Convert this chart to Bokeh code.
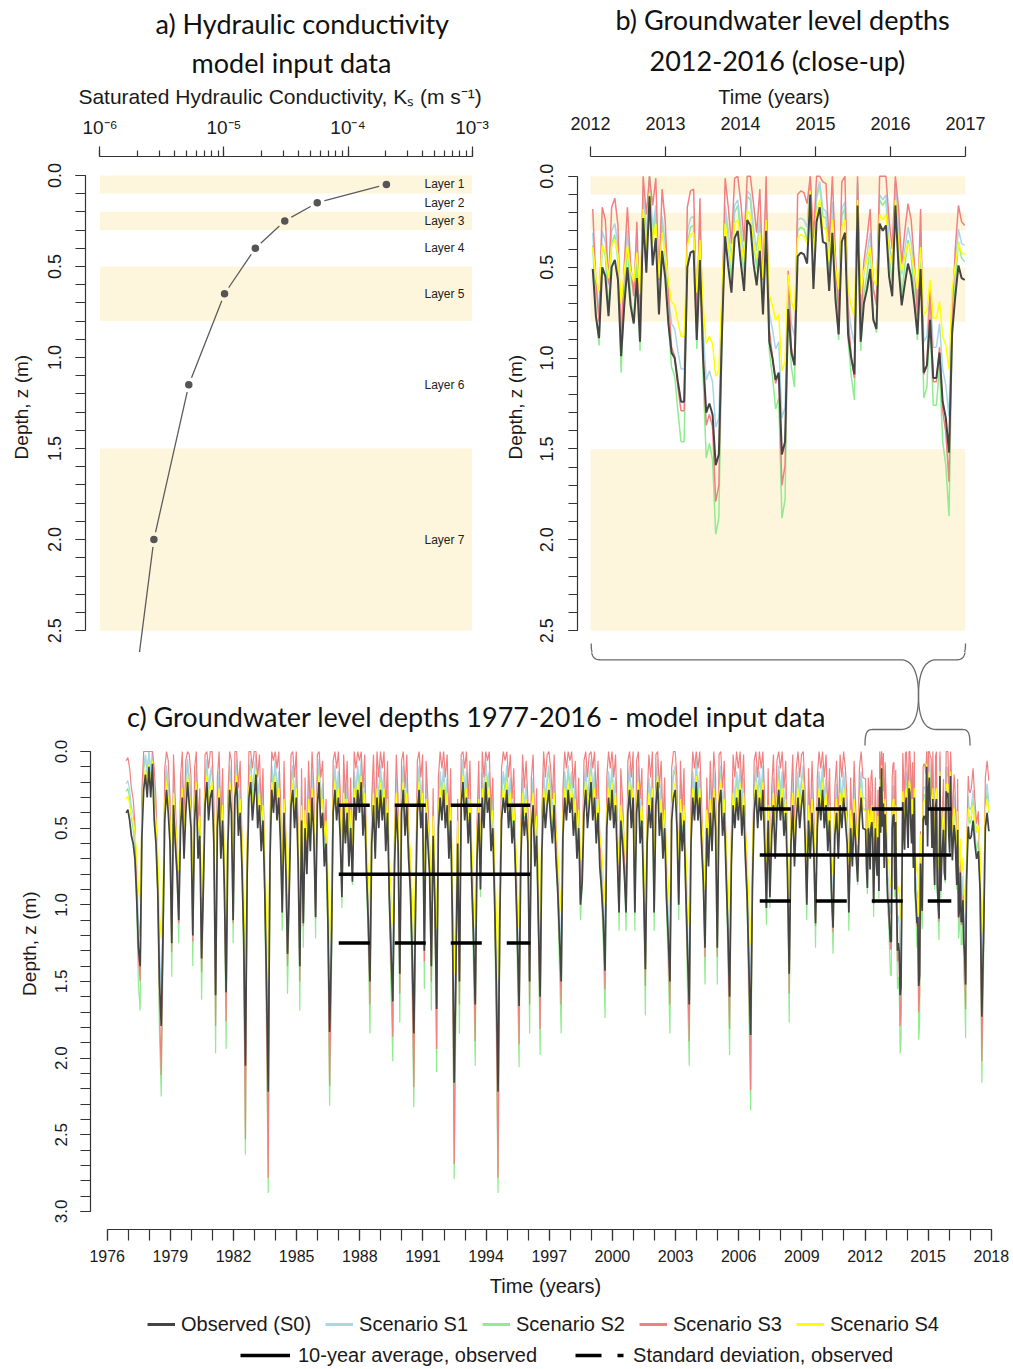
import numpy as np
from bokeh.plotting import figure
from bokeh.layouts import column, row
from bokeh.models import (Range1d, SingleIntervalTicker, FixedTicker, LogTicker, Title,
                          PrintfTickFormatter, CustomJSTickFormatter, Label, Legend, LegendItem)
from bokeh.core.properties import value
from bokeh.embed import file_html
from bokeh.resources import INLINE

# ---------------------------------------------------------------- data
layer_names = ["Layer 1", "Layer 2", "Layer 3", "Layer 4", "Layer 5", "Layer 6", "Layer 7"]
layer_top = [0.0, 0.1, 0.2, 0.3, 0.5, 0.8, 1.5]
layer_bottom = [0.1, 0.2, 0.3, 0.5, 0.8, 1.5, 2.5]
layer_shaded = [True, False, True, False, True, False, True]
ks_depth = [0.05, 0.15, 0.25, 0.40, 0.65, 1.15, 2.00]
ks_value = [2.04e-4, 5.65e-5, 3.09e-5, 1.79e-5, 1.01e-5, 5.2e-6, 2.72e-6]
ks_tail_depth = 2.62
ks_tail_value = 2.08e-6

# panel b (2012-2016), depths in cm
b_s0 = [51,77,89,50,55,77,50,46,57,99, 71,50,71,81,56,91,23,53,11,49, 34,76,41,56,81,97,100,113,124,124,
        50,42,41,90,46,100,130,125,131,159, 153,86,33,50,64,34,30,48,63,24, 27,48,60,41,76,30,
        91,100,112,108,153,146,73,97,104,44, 42,43,48,10,62,25,17,36,37,63, 31,68,87,36,31,87,100,109,16,91,
        70,62,51,79,84,26,30,27,55,66, 16,50,71,59,48,55,70,87,51,108, 104,79,111,111,97,124,133,152,86,66,
        49,56,57]
b_s1 = [31,60,73,30,36,60,30,26,38,83, 54,30,54,65,37,75,7,34,0,29, 16,59,22,37,65,81,84,96,106,106,
        30,23,22,74,26,84,112,107,113,138, 133,70,16,30,45,16,13,28,44,8, 10,28,41,22,59,13,
        75,84,95,91,133,127,56,81,88,24, 23,24,28,0,43,9,3,18,19,44, 14,50,71,18,14,71,84,92,3,75,
        53,43,31,63,68,10,13,10,36,48, 3,30,54,40,28,36,53,71,31,91, 88,63,94,94,81,106,115,132,70,48,
        29,37,38]
b_s2 = [38,75,93,37,44,75,37,32,47,108, 66,37,66,81,45,96,10,41,0,36, 20,74,27,45,81,105,110,129,146,146,
        37,28,27,95,32,110,155,147,156,197, 188,89,19,37,57,20,16,35,55,11, 13,35,51,27,74,16,
        96,110,128,122,188,178,69,105,116,30, 28,29,35,0,54,12,5,22,23,55, 17,62,90,22,17,90,110,123,4,96,
        65,54,38,78,86,13,16,13,44,59, 4,37,66,49,35,44,65,90,38,122, 116,78,126,126,105,146,159,187,89,59,
        36,45,47]
b_s3 = [18,59,80,17,24,59,17,12,27,97, 48,17,48,66,25,84,0,21,0,16, 1,57,7,25,66,94,99,116,129,129,
        17,8,7,82,12,99,137,131,138,179, 170,75,1,17,37,1,0,15,36,0, 0,15,31,7,57,0,
        84,99,114,109,170,159,52,94,104,10, 8,9,15,0,34,0,0,3,4,36, 0,44,77,3,0,77,99,111,0,84,
        47,34,18,62,71,0,0,0,24,40, 0,17,48,30,15,24,47,77,18,109, 104,62,113,113,94,129,141,168,75,40,
        16,25,27]
b_s4 = [39,56,63,38,42,56,38,35,43,70, 52,38,52,58,42,65,18,40,9,37, 26,56,31,42,58,69,71,80,88,88,
        38,32,31,64,35,71,92,88,92,110, 107,62,26,38,47,26,24,37,47,19, 21,37,45,31,56,24,
        65,71,79,76,107,102,54,69,74,34, 32,33,37,8,46,20,13,28,29,47, 24,50,62,28,24,62,71,77,13,65,
        52,46,39,57,60,21,24,21,42,49, 13,38,52,44,37,42,52,62,39,76, 74,57,78,78,69,88,93,106,62,49,
        37,42,43]

# panel c, monthly Dec-1976 .. Dec-2011 (cm)
c_s0_early = [40,
    38,45,55,60,70,95,128,140,55,25,15,30,
    10,30,8,45,60,90,150,179,120,45,25,40,
    60,125,35,60,80,110,50,30,70,40,20,35,
    50,120,45,25,70,55,135,90,35,20,45,30,
    25,60,159,50,30,70,45,90,157,60,25,40,
    110,30,20,55,40,75,120,205,80,30,20,45,
    30,15,50,35,65,45,90,150,222,70,25,40,
    20,45,30,60,105,40,75,132,90,35,25,50,
    30,70,140,45,112,50,80,40,65,30,55,108,
    35,20,50,40,75,60,110,183,130,40,25,45,
    30,55,95,35,60,40,75,50,85,30,45,25,
    40,20,55,35,80,110,150,60,35,70,30,50,
    25,45,30,65,40,95,130,163,75,35,60,145,
    40,25,55,35,70,90,130,184,100,40,25,50,
    35,130,40,60,80,140,55,100,168,50,30,45,
    25,50,35,70,45,110,216,140,60,150,35,20,
    45,30,60,40,85,120,165,70,40,90,30,50,
    20,40,30,65,50,95,150,222,110,45,30,40,
    25,50,35,60,45,80,120,166,70,35,55,40,
    60,150,50,35,75,55,110,160,65,30,50,35,
    25,45,60,35,70,90,120,150,55,30,45,25,
    40,30,55,40,70,50,100,85,40,25,50,35,
    20,45,30,60,40,75,90,110,143,50,30,45,
    25,50,35,70,105,45,60,80,105,40,25,50,
    30,105,40,25,60,45,90,142,60,35,50,30,
    105,35,20,55,40,70,50,95,120,150,45,30,
    25,50,100,40,65,45,90,130,165,60,30,45,
    20,45,30,60,85,128,50,75,40,65,30,50,
    128,35,25,55,40,80,115,160,75,35,50,30,
    45,25,55,35,70,95,140,185,90,40,25,50,
    30,45,25,60,102,45,95,55,35,70,40,25,
    45,30,55,40,80,145,60,35,75,45,30,50,
    35,25,55,100,45,70,40,65,112,50,30,45,
    25,50,35,65,45,90,115,55,40,70,35,50,
    30,45,60,105,50,75,40,65,85,45,30,50]
c_s1_early = [21,
    19,25,36,41,53,79,110,121,36,9,2,13,
    0,13,0,25,41,74,130,156,103,25,9,21,
    41,107,17,41,64,93,30,13,53,21,5,17,
    30,103,25,9,53,36,117,74,17,5,25,13,
    9,41,138,30,13,53,25,74,136,41,9,21,
    93,13,5,36,21,58,103,180,64,13,5,25,
    13,2,30,17,47,25,74,130,195,53,9,21,
    5,25,13,41,88,21,58,114,74,17,9,30,
    13,53,121,25,95,30,64,21,47,13,36,91,
    17,5,30,21,58,41,93,160,112,21,9,25,
    13,36,79,17,41,21,58,30,69,13,25,9,
    21,5,36,17,64,93,130,41,17,53,13,30,
    9,25,13,47,21,79,112,142,58,17,41,126,
    21,9,36,17,53,74,112,161,84,21,9,30,
    17,112,21,41,64,121,36,84,146,30,13,25,
    9,30,17,53,25,93,189,121,41,130,17,5,
    25,13,41,21,69,103,144,53,21,74,13,30,
    5,21,13,47,30,79,130,195,93,25,13,21,
    9,30,17,41,25,64,103,145,53,17,36,21,
    41,130,30,17,58,36,93,139,47,13,30,17,
    9,25,41,17,53,74,103,130,36,13,25,9,
    21,13,36,21,53,30,84,69,21,9,30,17,
    5,25,13,41,21,58,74,93,124,30,13,25,
    9,30,17,53,88,25,41,64,88,21,9,30,
    13,88,21,9,41,25,74,123,41,17,30,13,
    88,17,5,36,21,53,30,79,103,130,25,13,
    9,30,84,21,47,25,74,112,144,41,13,25,
    5,25,13,41,69,110,30,58,21,47,13,30,
    110,17,9,36,21,64,98,139,58,17,30,13,
    25,9,36,17,53,79,121,162,74,21,9,30,
    13,25,9,41,86,25,79,36,17,53,21,9,
    25,13,36,21,64,126,41,17,58,25,13,30,
    17,9,36,84,25,53,21,47,95,30,13,25,
    9,30,17,47,25,74,98,36,21,53,17,30,
    13,25,41,88,30,58,21,47,69,25,13,30]
c_s2_early = [26,
    24,31,44,51,65,102,152,169,44,12,3,16,
    0,16,0,31,51,95,184,225,140,31,12,26,
    51,147,21,51,80,125,37,16,65,26,8,21,
    37,140,31,12,65,44,162,95,21,8,31,16,
    12,51,197,37,16,65,31,95,194,51,12,26,
    125,16,8,44,26,72,140,263,80,16,8,31,
    16,3,37,21,58,31,95,184,288,65,12,26,
    8,31,16,51,117,26,72,158,95,21,12,37,
    16,65,169,31,128,37,80,26,58,16,44,122,
    21,8,37,26,72,51,125,231,155,26,12,31,
    16,44,102,21,51,26,72,37,87,16,31,12,
    26,8,44,21,80,125,184,51,21,65,16,37,
    12,31,16,58,26,102,155,202,72,21,51,177,
    26,12,44,21,65,95,155,232,110,26,12,37,
    21,155,26,51,80,169,44,110,209,37,16,31,
    12,37,21,65,31,125,279,169,51,184,21,8,
    31,16,51,26,87,140,205,65,26,95,16,37,
    8,26,16,58,37,102,184,288,125,31,16,26,
    12,37,21,51,31,80,140,206,65,21,44,26,
    51,184,37,21,72,44,125,198,58,16,37,21,
    12,31,51,21,65,95,140,184,44,16,31,12,
    26,16,44,26,65,37,110,87,26,12,37,21,
    8,31,16,51,26,72,95,125,174,37,16,31,
    12,37,21,65,117,31,51,80,117,26,12,37,
    16,117,26,12,51,31,95,172,51,21,37,16,
    117,21,8,44,26,65,37,102,140,184,31,16,
    12,37,110,26,58,31,95,155,205,51,16,31,
    8,31,16,51,87,152,37,72,26,58,16,37,
    152,21,12,44,26,80,132,198,72,21,37,16,
    31,12,44,21,65,102,169,234,95,26,12,37,
    16,31,12,51,113,31,102,44,21,65,26,12,
    31,16,44,26,80,177,51,21,72,31,16,37,
    21,12,44,110,31,65,26,58,128,37,16,31,
    12,37,21,58,31,95,132,44,26,65,21,37,
    16,31,51,117,37,72,26,58,87,31,16,37]
c_s3_early = [6,
    4,11,24,31,47,90,134,150,24,0,0,0,
    0,0,0,11,31,82,165,211,124,11,0,6,
    31,131,2,31,64,112,17,0,47,6,0,2,
    17,124,11,0,47,24,144,82,2,0,11,0,
    0,31,179,17,0,47,11,82,176,31,0,6,
    112,0,0,24,6,55,124,253,64,0,0,11,
    0,0,17,2,39,11,82,165,278,47,0,6,
    0,11,0,31,105,6,55,140,82,2,0,17,
    0,47,150,11,114,17,64,6,39,0,24,109,
    2,0,17,6,55,31,112,218,137,6,0,11,
    0,24,90,2,31,6,55,17,73,0,11,0,
    6,0,24,2,64,112,165,31,2,47,0,17,
    0,11,0,39,6,90,137,186,55,2,31,158,
    6,0,24,2,47,82,137,219,99,6,0,17,
    2,137,6,31,64,150,24,99,194,17,0,11,
    0,17,2,47,11,112,269,150,31,165,2,0,
    11,0,31,6,73,124,189,47,6,82,0,17,
    0,6,0,39,17,90,165,278,112,11,0,6,
    0,17,2,31,11,64,124,191,47,2,24,6,
    31,165,17,2,55,24,112,181,39,0,17,2,
    0,11,31,2,47,82,124,165,24,0,11,0,
    6,0,24,6,47,17,99,73,6,0,17,2,
    0,11,0,31,6,55,82,112,155,17,0,11,
    0,17,2,47,105,11,31,64,105,6,0,17,
    0,105,6,0,31,11,82,153,31,2,17,0,
    105,2,0,24,6,47,17,90,124,165,11,0,
    0,17,99,6,39,11,82,137,189,31,0,11,
    0,11,0,31,73,134,17,55,6,39,0,17,
    134,2,0,24,6,64,118,181,55,2,17,0,
    11,0,24,2,47,90,150,221,82,6,0,17,
    0,11,0,31,102,11,90,24,2,47,6,0,
    11,0,24,6,64,158,31,2,55,11,0,17,
    2,0,24,99,11,47,6,39,114,17,0,11,
    0,17,2,39,11,82,118,24,6,47,2,17,
    0,11,31,105,17,55,6,39,73,11,0,17]
c_s4_early = [31,
    29,35,42,45,52,67,90,98,42,20,12,24,
    8,24,6,35,45,64,105,122,85,35,20,31,
    45,88,27,45,58,78,38,24,52,31,16,27,
    38,85,35,20,52,42,95,64,27,16,35,24,
    20,45,110,38,24,52,35,64,109,45,20,31,
    78,24,16,42,31,55,85,138,58,24,16,35,
    24,12,38,27,48,35,64,105,148,52,20,31,
    16,35,24,45,74,31,55,93,64,27,20,38,
    24,52,98,35,79,38,58,31,48,24,42,76,
    27,16,38,31,55,45,78,125,92,31,20,35,
    24,42,67,27,45,31,55,38,61,24,35,20,
    31,16,42,27,58,78,105,45,27,52,24,38,
    20,35,24,48,31,67,92,113,55,27,45,101,
    31,20,42,27,52,64,92,125,71,31,20,38,
    27,92,31,45,58,98,42,71,116,38,24,35,
    20,38,27,52,35,78,145,98,45,105,27,16,
    35,24,45,31,61,85,114,52,31,64,24,38,
    16,31,24,48,38,67,105,148,78,35,24,31,
    20,38,27,45,35,58,85,115,52,27,42,31,
    45,105,38,27,55,42,78,111,48,24,38,27,
    20,35,45,27,52,64,85,105,42,24,35,20,
    31,24,42,31,52,38,71,61,31,20,38,27,
    16,35,24,45,31,55,64,78,100,38,24,35,
    20,38,27,52,74,35,45,58,74,31,20,38,
    24,74,31,20,45,35,64,99,45,27,38,24,
    74,27,16,42,31,52,38,67,85,105,35,24,
    20,38,71,31,48,35,64,92,114,45,24,35,
    16,35,24,45,61,90,38,55,31,48,24,38,
    90,27,20,42,31,58,81,111,55,27,38,24,
    35,20,42,27,52,67,98,126,64,31,20,38,
    24,35,20,45,72,35,67,42,27,52,31,20,
    35,24,42,31,58,101,45,27,55,35,24,38,
    27,20,42,71,35,52,31,48,79,38,24,35,
    20,38,27,48,35,64,81,42,31,52,27,38,
    24,35,45,74,38,55,31,48,61,35,24,38]
# panel c, 2017 tail (cm)
c_s0_late = [55,45,60,70,65,90,173,120,50,40,52]
c_s1_late = [36,25,41,53,47,74,151,103,30,21,33]
c_s2_late = [44,31,51,65,58,95,216,140,37,26,40]
c_s3_late = [24,11,31,47,39,82,202,124,17,6,19]
c_s4_late = [42,35,45,52,48,64,119,85,38,31,39]

# 10-year statistics of observed series (m)
dec_start = [1987.0, 2007.0]
dec_end = [1996.1, 2016.1]
dec_mean = [0.80, 0.675]
dec_sd = [0.45, 0.30]

c_year_labels = list(range(1976, 2019, 3))
c_year_minor = list(range(1976, 2019))
b_year_ticks = [2012, 2013, 2014, 2015, 2016, 2017]

series_names = ["Observed (S0)", "Scenario S1", "Scenario S2", "Scenario S3", "Scenario S4"]
series_colors = ["#454545", "#a9d6e8", "#8fec8f", "#f28080", "#ffff00"]

# ---------------------------------------------------------------- helpers
FONT = "Liberation Sans"
TFONT = "Lato"
AX = "#333333"
BAND = "#fef6dc"


def style_axis(ax, size="18px"):
    ax.axis_line_color = AX
    ax.axis_line_width = 1.2
    ax.major_tick_line_color = AX
    ax.minor_tick_line_color = AX
    ax.major_tick_line_width = 1.2
    ax.minor_tick_line_width = 1.2
    ax.major_tick_in = 0
    ax.minor_tick_in = 0
    ax.major_label_text_font = FONT
    ax.major_label_text_font_size = size
    ax.major_label_text_color = "#1a1a1a"
    ax.axis_label_text_font = FONT
    ax.axis_label_text_font_size = "20px"
    ax.axis_label_text_font_style = "normal"
    ax.axis_label_text_color = "#1a1a1a"


def depth_axis(ax, top, tick_len, standoff, label_standoff):
    ax.ticker = SingleIntervalTicker(interval=0.5, num_minor_ticks=5)
    ax.bounds = (0, top)
    ax.formatter = PrintfTickFormatter(format="%.1f")
    ax.major_label_orientation = "vertical"
    ax.major_tick_out = tick_len
    ax.minor_tick_out = tick_len
    ax.major_label_standoff = standoff
    ax.axis_label = "Depth,  z (m)"
    ax.axis_label_text_font_size = "19px"
    ax.axis_label_standoff = label_standoff


def clean(p):
    p.grid.visible = False
    p.outline_line_color = None
    p.background_fill_color = "white"
    p.border_fill_color = "white"


def cubic(p0, p1, p2, p3, n=18):
    t = np.linspace(0, 1, n)[:, None]
    p0, p1, p2, p3 = map(np.array, (p0, p1, p2, p3))
    return ((1 - t) ** 3) * p0 + 3 * ((1 - t) ** 2) * t * p1 + 3 * (1 - t) * t ** 2 * p2 + t ** 3 * p3


def head(p, text, offset, standoff):
    p.add_layout(Title(text=text, align="left", offset=offset, standoff=standoff,
                       text_font=TFONT, text_font_size="27px", text_font_style="normal",
                       text_color="#111111"), "above")


def cm(a):
    return np.array(a, dtype=float) / 100.0


# ---------------------------------------------------------------- panel a
pa = figure(width=500, height=652, x_axis_type="log", x_axis_location="above",
            x_range=Range1d(10 ** -6.1169, 10 ** -2.9315), y_range=Range1d(2.6201, -0.1037),
            min_border_left=85, min_border_right=20, min_border_top=155, min_border_bottom=0,
            output_backend="svg", toolbar_location=None)
clean(pa)
sh = [i for i in range(7) if layer_shaded[i]]
pa.quad(left=1e-6, right=1e-3, top=[layer_top[i] for i in sh], bottom=[layer_bottom[i] for i in sh],
        fill_color=BAND, line_color=None)
pa.line(x=ks_value + [ks_tail_value], y=ks_depth + [ks_tail_depth], color="#5c5c5c", line_width=1.3)
pa.scatter(x=ks_value, y=ks_depth, size=15, line_color=None,
           fill_color=[BAND if s else "white" for s in layer_shaded])
pa.scatter(x=ks_value, y=ks_depth, size=7.5, line_color=None, fill_color="#555555")
pa.text(x=[10 ** -3.383] * 7, y=ks_depth, text=layer_names, text_font=value(FONT),
        text_font_size="12px", text_baseline="middle", text_align="left", text_color="#222222")
xa = pa.xaxis[0]
style_axis(xa, "19px")
xa.ticker = LogTicker(num_minor_ticks=10)
xa.bounds = (1e-6, 1e-3)
xa.formatter = CustomJSTickFormatter(code="""
const m = {"-":"\\u207b","0":"\\u2070","1":"\\u00b9","2":"\\u00b2","3":"\\u00b3","4":"\\u2074",
           "5":"\\u2075","6":"\\u2076","7":"\\u2077","8":"\\u2078","9":"\\u2079"};
const e = Math.round(Math.log10(tick));
return "10" + String(e).split("").map(c => m[c]).join("");
""")
xa.major_tick_out = 10
xa.minor_tick_out = 6
xa.major_label_standoff = 9
xa.axis_label = "Saturated Hydraulic Conductivity,  K\u209b (m s\u207b\u00b9)"
xa.axis_label_text_font_size = "21px"
xa.axis_label_standoff = 6
ya = pa.yaxis[0]
style_axis(ya)
depth_axis(ya, 2.5, 10, 14, 14)
head(pa, "model input data", 106, 6)
head(pa, "a) Hydraulic conductivity", 70, 2)

# ---------------------------------------------------------------- panel b
pb = figure(width=513, height=652, x_axis_location="above",
            x_range=Range1d(2011.8267, 2017.0667), y_range=Range1d(2.6201, -0.1092),
            min_border_left=77, min_border_right=43, min_border_top=154, min_border_bottom=0,
            output_backend="svg", toolbar_location=None)
clean(pb)
pb.quad(left=2012, right=2017, top=[layer_top[i] for i in sh], bottom=[layer_bottom[i] for i in sh],
        fill_color=BAND, line_color=None)
t_b = np.linspace(2012.03, 2016.99, len(b_s0))
b_series = [b_s0, b_s1, b_s2, b_s3, b_s4]
for idx in [2, 1, 3, 4, 0]:
    pb.line(x=t_b, y=cm(b_series[idx]), color=series_colors[idx],
            line_width=2.0 if idx == 0 else 1.5)
xb = pb.xaxis[0]
style_axis(xb)
xb.ticker = FixedTicker(ticks=b_year_ticks)
xb.bounds = (2012, 2017)
xb.formatter = PrintfTickFormatter(format="%d")
xb.major_tick_out = 10
xb.minor_tick_out = 0
xb.major_label_standoff = 17
xb.axis_label = "Time (years)"
xb.axis_label_standoff = 6
yb = pb.yaxis[0]
style_axis(yb)
depth_axis(yb, 2.5, 9, 15, 12)
head(pb, "2012-2016 (close-up)", 72, 12)
head(pb, "b) Groundwater level depths", 38, 0)

# ---------------------------------------------------------------- panel c
pc = figure(width=1013, height=653,
            x_range=Range1d(1975.2067, 2018.4366), y_range=Range1d(3.1181, -0.6458),
            min_border_left=90, min_border_right=13, min_border_top=0, min_border_bottom=76,
            output_backend="svg", toolbar_location=None)
clean(pc)
t_c = np.concatenate([1976.9 + np.arange(len(c_s0_early)) / 12.0, t_b,
                      2017.05 + np.arange(len(c_s0_late)) / 12.0])
c_series = [
    np.concatenate([cm(c_s0_early), cm(b_s0), cm(c_s0_late)]),
    np.concatenate([cm(c_s1_early), cm(b_s1), cm(c_s1_late)]),
    np.concatenate([cm(c_s2_early), cm(b_s2), cm(c_s2_late)]),
    np.concatenate([cm(c_s3_early), cm(b_s3), cm(c_s3_late)]),
    np.concatenate([cm(c_s4_early), cm(b_s4), cm(c_s4_late)]),
]
for idx in [2, 1, 3, 4, 0]:
    n = min(len(t_c), len(c_series[idx]))
    pc.line(x=t_c[:n], y=c_series[idx][:n], color=series_colors[idx],
            line_width=1.7 if idx == 0 else 1.2)
pc.segment(x0=dec_start, x1=dec_end, y0=dec_mean, y1=dec_mean, color="black", line_width=3.5)
lo = [m - s for m, s in zip(dec_mean, dec_sd)]
hi = [m + s for m, s in zip(dec_mean, dec_sd)]
pc.segment(x0=dec_start + dec_start, x1=dec_end + dec_end, y0=lo + hi, y1=lo + hi,
           color="black", line_width=3.5, line_dash="31 25")

# braces linking panel b to panel c (page-pixel geometry)
brace_left = np.vstack([cubic((590.7, 645), (590.7, 655), (592.5, 659.3), (600, 659.3)),
                        cubic((900, 659.3), (914, 659.3), (918, 676), (918, 695)),
                        cubic((918, 695), (918, 714), (914, 729), (900, 729)),
                        cubic((872, 729), (866, 729), (864.5, 733), (864.5, 745))])
brace_right = np.vstack([cubic((965, 645), (965, 655), (963, 659.3), (956, 659.3)),
                         cubic((936, 659.3), (922, 659.3), (918, 676), (918, 695)),
                         cubic((918, 695), (918, 714), (922, 729), (936, 729)),
                         cubic((962, 729), (968, 729), (969.5, 733), (969.5, 745))])
for br in (brace_left, brace_right):
    pb.line(x=2012 + (br[:, 0] - 590) / 75.0, y=(br[:, 1] - 174) / 183.2, color="#6a6a6a", line_width=1.3)
    pc.line(x=1976 + (br[:, 0] - 106.7) / 21.05, y=(br[:, 1] - 751) / 153.3, color="#6a6a6a", line_width=1.3)

xc = pc.xaxis[0]
style_axis(xc, "16px")
xc.ticker = FixedTicker(ticks=c_year_labels, minor_ticks=c_year_minor)
xc.bounds = (1976, 2018)
xc.formatter = PrintfTickFormatter(format="%d")
xc.major_tick_out = 11
xc.minor_tick_out = 11
xc.major_label_standoff = 9
xc.axis_label = "Time (years)"
xc.axis_label_standoff = 10
yc = pc.yaxis[0]
style_axis(yc, "17px")
depth_axis(yc, 3.0, 10, 13, 13)
pc.add_layout(Label(x=386, y=513, x_units="screen", y_units="screen",
                    text="c) Groundwater level depths 1977-2016 - model input data",
                    text_align="center", text_baseline="middle", text_font=TFONT,
                    text_font_size="27px", text_color="#111111"))

# ---------------------------------------------------------------- legend strip
pl = figure(width=1013, height=64, x_range=Range1d(0, 1013), y_range=Range1d(0, 64),
            x_axis_location=None, y_axis_location=None,
            min_border_left=0, min_border_right=0, min_border_top=0, min_border_bottom=0,
            output_backend="svg", toolbar_location=None)
clean(pl)
nan = [np.nan]
leg_r = [pl.line(x=nan, y=nan, color=series_colors[i], line_width=3) for i in range(5)]
avg_leg = pl.line(x=nan, y=nan, color="black", line_width=3.5)
sd_leg = pl.line(x=nan, y=nan, color="black", line_width=3.5, line_dash="26 16 6 40")

leg1 = Legend(items=[LegendItem(label=series_names[i], renderers=[leg_r[i]]) for i in range(5)],
              location=(57, 33), orientation="horizontal", glyph_width=28, glyph_height=24,
              label_height=24, label_standoff=6, spacing=14, padding=0, margin=0,
              border_line_color=None, background_fill_alpha=0,
              label_text_font=FONT, label_text_font_size="20px", label_text_color="#1a1a1a")
leg2 = Legend(items=[LegendItem(label="10-year average, observed", renderers=[avg_leg]),
                     LegendItem(label="Standard deviation, observed", renderers=[sd_leg])],
              location=(150, 2), orientation="horizontal", glyph_width=50, glyph_height=24,
              label_height=24, label_standoff=8, spacing=38, padding=0, margin=0,
              border_line_color=None, background_fill_alpha=0,
              label_text_font=FONT, label_text_font_size="20px", label_text_color="#1a1a1a")
pl.add_layout(leg1, "center")
pl.add_layout(leg2, "center")

layout = column(row(pa, pb), pc, pl)
open("out.html", "w").write(file_html(layout, INLINE))
